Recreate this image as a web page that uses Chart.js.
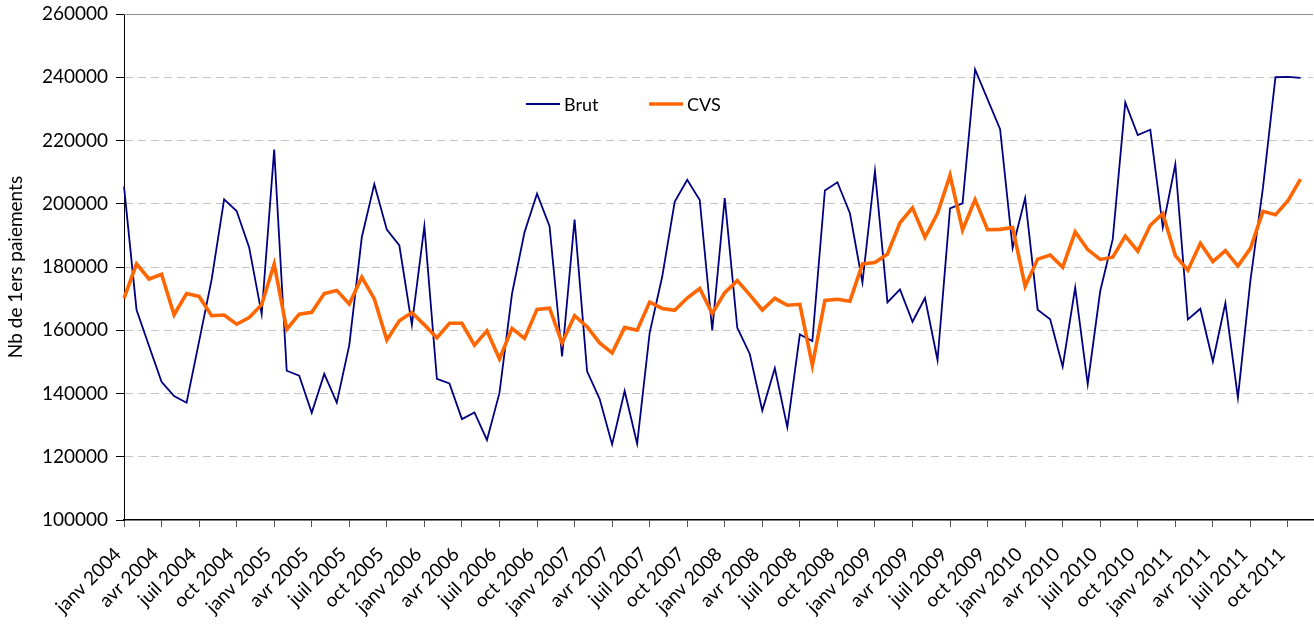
<!DOCTYPE html>
<html>
<head>
<meta charset="utf-8">
<title>Nb de 1ers paiements</title>
<script src="https://cdn.jsdelivr.net/npm/chart.js@4"></script>
<style>
  html, body { margin: 0; padding: 0; background: #fff; }
  #paiementsChart { display: block; }
</style>
</head>
<body>
<canvas id="paiementsChart" width="1314" height="625"></canvas>
<script>
// mois / années du graphique (janv 2004 -> déc 2011)
const moisNoms = ['janv', 'févr', 'mars', 'avr', 'mai', 'juin', 'juil', 'août', 'sept', 'oct', 'nov', 'déc'];
const annees = [2004, 2005, 2006, 2007, 2008, 2009, 2010, 2011];

// série brute, nb de 1ers paiements par mois
const brut = [
    205500, 166500, 155000, 143700, 139200, 137100, 156500, 176000, 201400, 197700, 186200, 165100,
    217100, 147200, 145600, 133900, 146200, 137100, 155300, 189400, 206200, 191800, 186800, 161700,
    192900, 144600, 143200, 131900, 134000, 125300, 140200, 171500, 191000, 203200, 192900, 151700,
    195000, 147000, 138300, 123900, 140800, 124100, 159200, 176900, 200600, 207600, 201200, 160000,
    201800, 160800, 152500, 134600, 148000, 129300, 158700, 156600, 204200, 206800, 197000, 175100,
    210400, 168800, 172900, 162700, 170200, 150600, 198500, 200100, 242500, 233000, 223600, 186000,
    201800, 166500, 163500, 148500, 173500, 143000, 172400, 188800, 232000, 221700, 223400, 192500,
    212500, 163400, 166800, 150100, 168600, 138700, 175800, 205000, 240000, 240100, 239800, null
];

// série corrigée des variations saisonnières
const cvs = [
    170100, 181000, 176200, 177700, 164900, 171600, 170700, 164600, 164800, 161900, 164000, 168100,
    180900, 160300, 165100, 165700, 171600, 172600, 168300, 176800, 169900, 156900, 163000, 165600,
    161700, 157600, 162200, 162200, 155300, 159800, 150900, 160600, 157400, 166600, 167000, 156000,
    164600, 161100, 156000, 152800, 160900, 160000, 168900, 166900, 166300, 170200, 173200, 165300,
    171900, 175700, 171200, 166400, 170100, 167900, 168200, 148900, 169400, 169800, 169200, 181000,
    181400, 184100, 194000, 198700, 189400, 197000, 209000, 191700, 201300, 191800, 191900, 192500,
    173900, 182500, 183800, 179900, 191100, 185500, 182400, 183100, 189800, 185000, 193200, 196900,
    183600, 179000, 187500, 181700, 185200, 180300, 185900, 197600, 196500, 201000, 207800, null
];

const yTicks = [100000, 120000, 140000, 160000, 180000, 200000, 220000, 240000, 260000];

const labels = [];
annees.forEach(function(a) {
    moisNoms.forEach(function(m) { labels.push(m + ' ' + a); });
});

const police = "Lato, 'Open Sans', sans-serif";

// légende dessinée dans la zone du graphique, comme l'original
const legendeInterne = {
    id: 'legendeInterne',
    afterDraw: function(chart) {
        const c = chart.ctx;
        const area = chart.chartArea;
        // cadre haut de la zone de traçage
        c.save();
        c.strokeStyle = '#8c8c8c';
        c.lineWidth = 1;
        c.beginPath();
        c.moveTo(area.left, area.top + 0.5);
        c.lineTo(area.right, area.top + 0.5);
        c.stroke();

        const places = [{ x: 526, y: 104 }, { x: 649, y: 104 }];
        c.font = '18px ' + police;
        c.textBaseline = 'middle';
        c.fillStyle = '#000';
        chart.data.datasets.forEach(function(ds, i) {
            const p = places[i];
            c.strokeStyle = ds.borderColor;
            c.lineWidth = ds.borderWidth;
            c.beginPath();
            c.moveTo(p.x, p.y);
            c.lineTo(p.x + 34, p.y);
            c.stroke();
            c.fillText(ds.label, p.x + 38, p.y + 1);
        });
        c.restore();
    }
};

document.addEventListener('DOMContentLoaded', function() {
    const ctx = document.getElementById('paiementsChart').getContext('2d');

    new Chart(ctx, {
        type: 'line',
        data: {
            labels: labels,
            datasets: [{
                label: 'Brut',
                data: brut,
                borderColor: '#000080',
                borderWidth: 1.8,
                pointRadius: 0,
                tension: 0,
                order: 1
            }, {
                label: 'CVS',
                data: cvs,
                borderColor: '#ff6600',
                borderWidth: 3.6,
                pointRadius: 0,
                tension: 0,
                order: 0
            }]
        },
        options: {
            responsive: false,
            animation: false,
            layout: {
                padding: { top: 14, right: 1, left: 0, bottom: 0 }
            },
            plugins: {
                legend: { display: false },
                tooltip: { enabled: false }
            },
            scales: {
                x: {
                    offset: false,
                    afterFit: function(s) {
                        s.height = 105;
                        s.paddingLeft = 0;
                        s.paddingRight = 0;
                    },
                    border: { color: '#000', width: 1.5 },
                    grid: {
                        drawOnChartArea: false,
                        tickLength: 7,
                        tickColor: function(c) { return c.index % 3 === 0 ? '#555' : 'rgba(0,0,0,0)'; }
                    },
                    ticks: {
                        autoSkip: false,
                        minRotation: 45,
                        maxRotation: 45,
                        padding: 16,
                        labelOffset: -6,
                        color: '#000',
                        font: { family: police, size: 19 },
                        callback: function(value, index) {
                            return index % 3 === 0 ? this.getLabelForValue(value) : '';
                        }
                    }
                },
                y: {
                    min: yTicks[0],
                    max: yTicks[yTicks.length - 1],
                    afterFit: function(s) {
                        s.width = 124;
                        s.paddingTop = 0;
                        s.paddingBottom = 0;
                    },
                    afterBuildTicks: function(s) {
                        s.ticks = yTicks.map(function(v) { return { value: v }; });
                    },
                    border: { color: '#000', width: 1, dash: [8, 5] },
                    grid: {
                        color: function(c) {
                            const v = c.tick && c.tick.value;
                            return (v === yTicks[0] || v === yTicks[yTicks.length - 1]) ? 'rgba(0,0,0,0)' : '#c4c4c4';
                        },
                        tickColor: '#000',
                        tickLength: 8,
                        tickBorderDash: []
                    },
                    ticks: {
                        padding: 8,
                        color: '#000',
                        font: { family: police, size: 19 },
                        callback: function(v) { return String(v); }
                    },
                    title: {
                        display: true,
                        text: 'Nb de 1ers paiements',
                        color: '#000',
                        font: { family: police, size: 19 },
                        padding: { top: 4, bottom: 0 }
                    }
                }
            }
        },
        plugins: [legendeInterne]
    });
});
</script>
</body>
</html>
